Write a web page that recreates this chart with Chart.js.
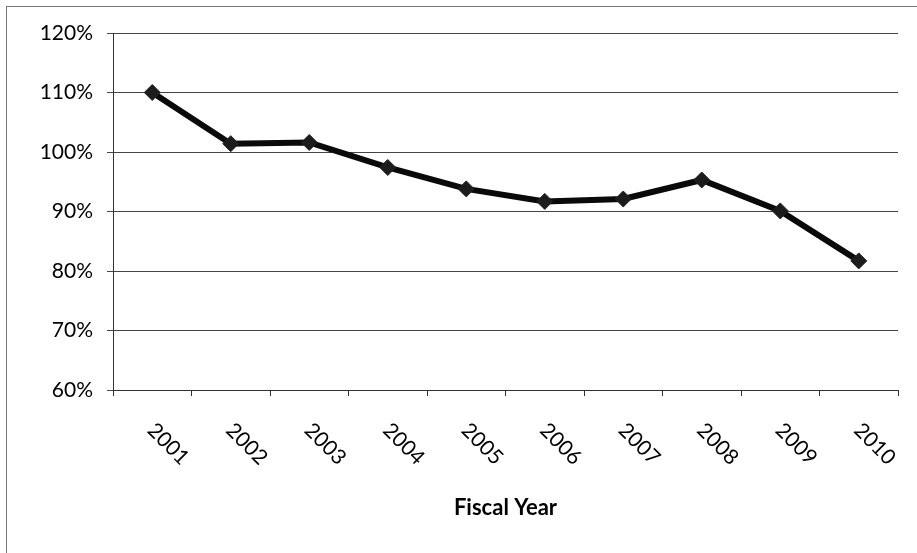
<!DOCTYPE html>
<html>
<head>
<meta charset="utf-8">
<script src="https://cdn.jsdelivr.net/npm/chart.js@4"></script>
<style>
html,body{margin:0;padding:0;background:#fff;}
#wrap{position:absolute;left:0;top:0;width:917px;height:553px;}
</style>
</head>
<body>
<div id="wrap"><canvas id="c" width="917" height="553"></canvas></div>
<script>
const years = ['2001','2002','2003','2004','2005','2006','2007','2008','2009','2010'];
const ratioValues = [110.0, 101.4, 101.6, 97.4, 93.8, 91.7, 92.1, 95.3, 90.1, 81.7];
const yTickValues = [60, 70, 80, 90, 100, 110, 120];
const xAxisTitle = 'Fiscal Year';

const FONT = 'Lato, "Open Sans", sans-serif';

const frameAndLabels = {
  id: 'frameAndLabels',
  beforeDraw(chart) {
    const ctx = chart.ctx;
    ctx.save();
    ctx.strokeStyle = '#777';
    ctx.lineWidth = 1;
    ctx.strokeRect(6.5, 6.5, 920, 560);
    ctx.restore();
  },
  afterDraw(chart) {
    const ctx = chart.ctx;
    const xs = chart.scales.x;
    ctx.save();
    ctx.fillStyle = '#000';
    ctx.font = '21px ' + FONT;
    ctx.textAlign = 'center';
    ctx.textBaseline = 'middle';
    years.forEach((lab, i) => {
      const px = xs.getPixelForValue(i);
      ctx.save();
      ctx.translate(px + 16, xs.top + 54);
      ctx.rotate(Math.PI / 4);
      ctx.fillText(lab, 0, 0);
      ctx.restore();
    });
    ctx.restore();
  }
};

new Chart(document.getElementById('c'), {
  type: 'line',
  data: {
    labels: years,
    datasets: [{
      data: ratioValues,
      borderColor: '#0a0a0a',
      borderWidth: 6,
      backgroundColor: '#1a1a1a',
      pointStyle: 'rectRot',
      pointRadius: 8,
      pointBorderColor: '#222',
      pointBackgroundColor: '#1c1c1c',
      pointBorderWidth: 1,
      tension: 0,
      fill: false
    }]
  },
  options: {
    responsive: false,
    animation: false,
    layout: { padding: { top: 33, right: 19, left: 0, bottom: 0 } },
    plugins: { legend: { display: false }, tooltip: { enabled: false } },
    scales: {
      x: {
        type: 'category',
        offset: true,
        grid: { offset: true, drawOnChartArea: false, drawTicks: true, tickLength: 6, color: '#333' },
        border: { display: true, color: '#333', width: 1 },
        ticks: { display: false },
        title: {
          display: true, text: xAxisTitle, color: '#000',
          font: { family: FONT, size: 22, weight: 'bold' },
          padding: { top: 0, bottom: 32 }
        },
        afterFit(scale) { scale.height = 163; }
      },
      y: {
        min: 60, max: 120,
        afterBuildTicks(scale) { scale.ticks = yTickValues.map(v => ({ value: v })); },
        grid: { color: '#444', lineWidth: 1, drawTicks: true, tickLength: 6 },
        border: { display: true, color: '#333', width: 1 },
        ticks: {
          color: '#000', padding: 14,
          font: { family: FONT, size: 21 },
          callback: v => v + '%'
        },
        afterFit(scale) { scale.width = 113; }
      }
    }
  },
  plugins: [frameAndLabels]
});
</script>
</body>
</html>
